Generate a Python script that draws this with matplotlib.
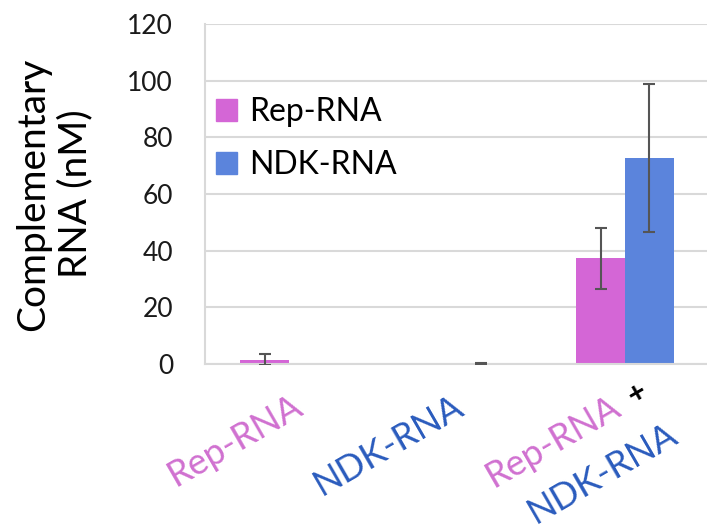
import matplotlib
matplotlib.use('Agg')
import matplotlib.pyplot as plt
import matplotlib.transforms as mtransforms
from matplotlib.patches import Patch
import numpy as np

plt.rcParams['font.family'] = ['Lato', 'DejaVu Sans']

# measured complementary RNA (nM) per sample
groups = ['Rep-RNA', 'NDK-RNA', 'Rep-RNA + NDK-RNA']
rep_vals = [1.5, 0.0, 37.3]
rep_err = [2.0, 0.0, 10.8]
ndk_vals = [0.0, 0.3, 72.7]
ndk_err = [0.0, 0.2, 26.2]
yticks = [0, 20, 40, 60, 80, 100, 120]

rep_color = '#d466d6'
ndk_color = '#5b84dc'
rep_text = '#d070d0'
ndk_text = '#2a5bbd'

fig = plt.figure(figsize=(7.07, 5.32), dpi=100)
ax = fig.add_axes([205/707, 1-364/532, 502/707, 340/532])

x = np.arange(len(groups))
w = 0.29
ax.bar(x - w/2, rep_vals, w, color=rep_color, zorder=2)
ax.bar(x + w/2, ndk_vals, w, color=ndk_color, zorder=2)

# error bars only where a bar was measured
for off, vals, errs in [(-w/2, rep_vals, rep_err), (w/2, ndk_vals, ndk_err)]:
    idx = [i for i in range(len(vals)) if vals[i] > 0]
    ax.errorbar(x[idx] + off, [vals[i] for i in idx], yerr=[errs[i] for i in idx],
                fmt='none', ecolor='#555555', elinewidth=1.5, capsize=4.5,
                capthick=1.5, zorder=3)

ax.set_xlim(-0.5, 2.488)
ax.set_ylim(0, 120)
ax.set_yticks(yticks)
ax.set_yticklabels([str(t) for t in yticks], fontsize=19, color='#1a1a1a')
ax.tick_params(axis='y', length=0, pad=23)
ax.set_xticks([])
ax.yaxis.grid(True, color='#d9d9d9', linewidth=1.5, zorder=0)
ax.set_axisbelow(True)
for s in ['top', 'right']:
    ax.spines[s].set_visible(False)
for s in ['left', 'bottom']:
    ax.spines[s].set_color('#d9d9d9')
    ax.spines[s].set_linewidth(1.5)

ax.text(-0.30, 0.5, 'Complementary\nRNA (nM)', transform=ax.transAxes,
        rotation=90, ha='center', va='center', multialignment='center',
        fontsize=28, linespacing=1.2)

# rotated category labels under each group
trans = mtransforms.blended_transform_factory(ax.transData, ax.transAxes)
lab = dict(rotation=30, rotation_mode='anchor', ha='right', va='baseline',
           fontsize=26, transform=trans)
ax.text(0 + 0.095, -0.141, 'Rep-RNA', color=rep_text, **lab)
ax.text(1 + 0.054, -0.144, 'NDK-RNA', color=ndk_text, **lab)
ax.text(2 - 0.012, -0.144, 'Rep-RNA', color=rep_text, **lab)
ax.text(2 + 0.327, -0.224, 'NDK-RNA', color=ndk_text, **lab)
ax.text(2 + 0.071, -0.085, '+', color='black', fontsize=22, fontweight='bold',
        rotation=30, ha='center', va='center', transform=trans)

handles = [Patch(color=rep_color, label='Rep-RNA'),
           Patch(color=ndk_color, label='NDK-RNA')]
ax.legend(handles=handles, loc='upper left', bbox_to_anchor=(0.022, 0.785),
          frameon=False, fontsize=23, handlelength=0.65, handleheight=0.65,
          handletextpad=0.4, labelspacing=0.72, borderpad=0, borderaxespad=0)

fig.savefig('out.png', dpi=100)
